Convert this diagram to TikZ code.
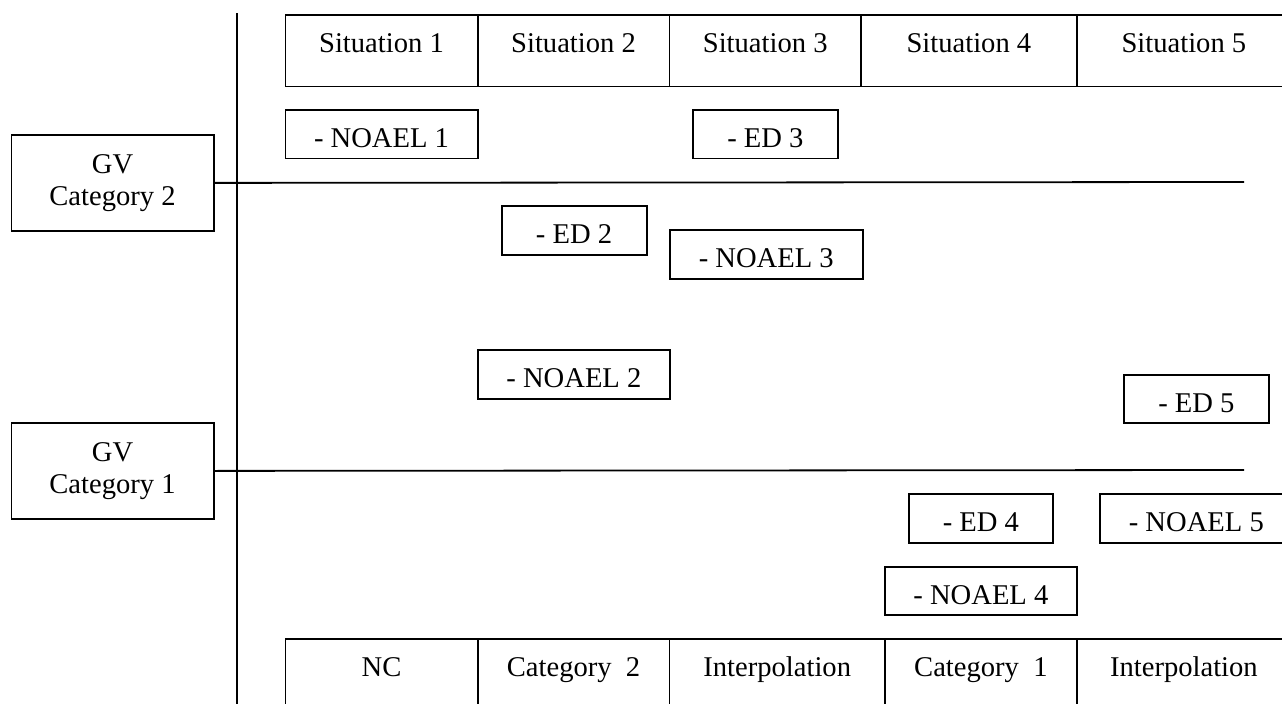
\documentclass[tikz,border=0pt]{standalone}
\usepackage{fontspec}
\setmainfont{Liberation Serif}
\begin{document}
\begin{tikzpicture}[x=1bp,y=-1bp,
  every node/.style={font=\fontsize{28.7}{32.3}\selectfont, inner sep=0pt},
  bx/.style={draw, line width=1.8bp, anchor=north west, minimum height=48.7bp, text height=26.7bp, text depth=0pt},
  cell/.style={draw, line width=1.8bp, anchor=north west, minimum height=71.7bp, text height=20bp, text depth=16.3bp},
  gv/.style={draw, line width=1.8bp, anchor=north west, minimum width=202.1bp, minimum height=96bp, align=center},
  rule/.style={line width=1.8bp}]
\useasboundingbox (0,0) rectangle (1282,704);
\clip (0,0) rectangle (1282,704);
% top table
\node[cell, minimum width=192.2bp] (s1) at (284.5,14) {Situation 1};
\node[cell, minimum width=191.9bp] (s2) at (476.7,14) {Situation 2};
\node[cell, minimum width=191.4bp] (s3) at (668.6,14) {Situation 3};
\node[cell, minimum width=216bp] (s4) at (860,14) {Situation 4};
\node[cell, minimum width=214bp] (s5) at (1076,14) {Situation 5};
% bottom table
\node[cell, minimum width=192.2bp] (b1) at (284.5,637.7) {NC};
\node[cell, minimum width=191.9bp] (b2) at (476.7,637.7) {Category\ \ 2};
\node[cell, minimum width=215.4bp] (b3) at (668.6,637.7) {Interpolation};
\node[cell, minimum width=192bp] (b4) at (884,637.7) {Category\ \ 1};
\node[cell, minimum width=214bp] (b5) at (1076,637.7) {Interpolation};
% small boxes
\node[bx, minimum width=192.2bp] (n1) at (284.5,109) {- NOAEL 1};
\node[bx, minimum width=145bp] (e3) at (692,109) {- ED 3};
\node[bx, minimum width=145bp] (e2) at (500.7,205) {- ED 2};
\node[bx, minimum width=192.7bp] (n3) at (669,229.3) {- NOAEL 3};
\node[bx, minimum width=192.6bp] (n2) at (476.7,349.3) {- NOAEL 2};
\node[bx, minimum width=145bp] (e5) at (1123,373.7) {- ED 5};
\node[bx, minimum width=144bp] (e4) at (908,493) {- ED 4};
\node[bx, minimum width=192.8bp] (n5) at (1099,493) {- NOAEL 5};
\node[bx, minimum width=192bp] (n4) at (884,565.7) {- NOAEL 4};
% GV boxes
\node[gv] (g2) at (10.6,134) {GV\\Category 2};
\node[gv] (g1) at (10.6,422) {GV\\Category 1};
% lines
\coordinate (vtop) at (236.7,13.3);
\coordinate (vbot) at (236.7,712);
\draw[rule] (vtop) -- (vbot);
\coordinate (h2end) at (1244,182);
\coordinate (h1end) at (1244,470);
\draw[rule] (g2.east) -- (h2end);
\draw[rule] (g1.east) -- (h1end);
\end{tikzpicture}
\end{document}
